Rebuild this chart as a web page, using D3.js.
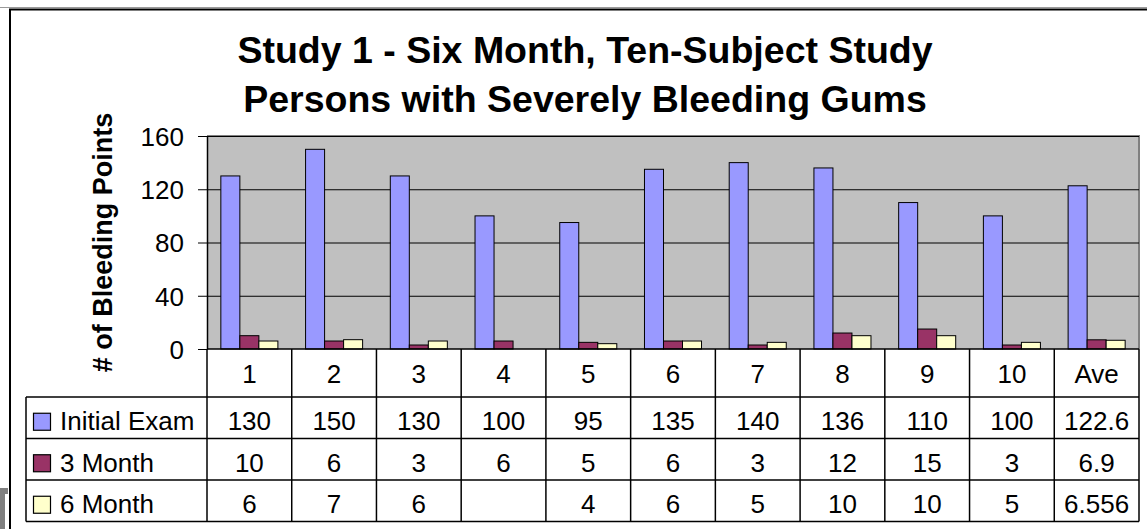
<!DOCTYPE html>
<html>
<head>
<meta charset="utf-8">
<script src="https://cdn.jsdelivr.net/npm/d3@7"></script>
<style>
  body { margin: 0; background: #fff; }
  text { font-family: Arial, "Liberation Sans", sans-serif; }
</style>
</head>
<body>
<div id="vizcont"></div>
<script>
// chart data
var categories = ["1", "2", "3", "4", "5", "6", "7", "8", "9", "10", "Ave"];
var seriesNames = ["Initial Exam", "3 Month", "6 Month"];
var initialExam = [130, 150, 130, 100, 95, 135, 140, 136, 110, 100, 122.6];
var threeMonth = [10, 6, 3, 6, 5, 6, 3, 12, 15, 3, 6.9];
var sixMonth = [6, 7, 6, null, 4, 6, 5, 10, 10, 5, 6.556];
var yTicks = [0, 40, 80, 120, 160];
var colors = ["#9999FF", "#993366", "#FFFFCC"];

var seriesValues = [initialExam, threeMonth, sixMonth];

var W = 1147, H = 529;
var plot = {left: 207, right: 1139, top: 136, bottom: 349};
var tableLeft = 26;
var rowTop = 397, rowH = 41.5;

var svg = d3.select("#vizcont").append("svg")
    .attr("width", W).attr("height", H);

svg.append("rect").attr("width", W).attr("height", H).attr("fill", "#fff");

// outer chart frame (runs off right / bottom)
svg.append("line").attr("x1", 0).attr("x2", W).attr("y1", 7.5).attr("y2", 7.5)
    .attr("stroke", "#9a9a9a").attr("stroke-width", 1);
svg.append("rect")
    .attr("x", 10).attr("y", 9.5).attr("width", W + 20).attr("height", H + 20)
    .attr("fill", "#fff").attr("stroke", "#000").attr("stroke-width", 2);

// stray window corner bottom-left
svg.append("rect").attr("x", 0).attr("y", 488).attr("width", 8).attr("height", 41).attr("fill", "#808080");
svg.append("rect").attr("x", 5).attr("y", 494).attr("width", 3).attr("height", 35).attr("fill", "#fff");

// title
var title = svg.append("text")
    .attr("text-anchor", "middle")
    .style("font-size", "37.5px").style("font-weight", "bold");
title.append("tspan").attr("x", 585).attr("y", 63).text("Study 1 - Six Month, Ten-Subject Study");
title.append("tspan").attr("x", 585).attr("y", 112).text("Persons with Severely Bleeding Gums");

// scales
var x = d3.scaleBand().domain(categories).range([plot.left, plot.right]).padding(0);
var xs = d3.scaleBand().domain(seriesNames).range([0, x.bandwidth()])
    .paddingInner(0).paddingOuter(0.728);
var y = d3.scaleLinear().domain([0, 160]).range([plot.bottom, plot.top]);

// plot background
svg.append("rect")
    .attr("x", plot.left).attr("y", plot.top)
    .attr("width", plot.right - plot.left).attr("height", plot.bottom - plot.top)
    .attr("fill", "#C0C0C0");
svg.append("path")
    .attr("d", "M" + plot.left + "," + plot.top + "H" + plot.right + "V" + plot.bottom)
    .attr("fill", "none").attr("stroke", "#808080").attr("stroke-width", 2);

// gridlines
svg.append("g")
    .attr("transform", "translate(" + plot.left + ",0)")
    .call(d3.axisLeft(y).tickValues(yTicks.slice(1)).tickSize(-(plot.right - plot.left)).tickFormat(""))
    .call(function(g) { g.select(".domain").remove(); })
    .selectAll("line").attr("stroke", "#000");

// bars
var groups = svg.append("g").selectAll("g")
    .data(categories)
    .enter().append("g")
    .attr("transform", function(d) { return "translate(" + x(d) + ",0)"; });

groups.selectAll("rect")
    .data(function(d, i) {
        return seriesNames.map(function(s, k) { return {s: s, k: k, v: seriesValues[k][i]}; })
            .filter(function(e) { return e.v != null; });
    })
    .enter().append("rect")
    .attr("x", function(d) { return xs(d.s); })
    .attr("y", function(d) { return y(d.v); })
    .attr("width", xs.bandwidth())
    .attr("height", function(d) { return y(0) - y(d.v); })
    .attr("fill", function(d) { return colors[d.k]; })
    .attr("stroke", "#000").attr("stroke-width", 1);

// y axis
var yAxis = svg.append("g")
    .attr("transform", "translate(" + plot.left + ",0)")
    .call(d3.axisLeft(y).tickValues(yTicks).tickSize(9).tickPadding(14).tickSizeOuter(0));
yAxis.select(".domain").attr("stroke", "#000").attr("stroke-width", 1.5);
yAxis.selectAll("line").attr("stroke", "#000");
yAxis.selectAll("text")
    .style("font-size", "26px").attr("fill", "#000")
    .attr("dy", "0.36em")
    .style("font-family", "Arial, 'Liberation Sans', sans-serif");

// y axis title
svg.append("text")
    .attr("transform", "translate(112," + ((plot.top + plot.bottom) / 2) + ") rotate(-90)")
    .attr("text-anchor", "middle")
    .style("font-size", "27px").style("font-weight", "bold")
    .text("# of Bleeding Points");

// data table
var tbl = svg.append("g");
var rowsY = d3.range(seriesNames.length + 1).map(function(i) { return rowTop + i * rowH; });

// horizontal lines
rowsY.forEach(function(yy) {
    tbl.append("line").attr("x1", tableLeft).attr("x2", plot.right)
        .attr("y1", yy).attr("y2", yy).attr("stroke", "#000").attr("stroke-width", 1.5);
});
tbl.append("line").attr("x1", plot.left).attr("x2", plot.right)
    .attr("y1", plot.bottom).attr("y2", plot.bottom).attr("stroke", "#000").attr("stroke-width", 1.5);
// vertical lines
tbl.append("line").attr("x1", tableLeft).attr("x2", tableLeft)
    .attr("y1", rowTop).attr("y2", rowsY[rowsY.length - 1]).attr("stroke", "#000").attr("stroke-width", 1.5);
categories.concat([null]).forEach(function(c, i) {
    var xx = c == null ? plot.right : x(c);
    tbl.append("line").attr("x1", xx).attr("x2", xx)
        .attr("y1", plot.bottom).attr("y2", rowsY[rowsY.length - 1])
        .attr("stroke", "#000").attr("stroke-width", 1.5);
});

// category header
tbl.selectAll(".cat").data(categories).enter().append("text")
    .attr("class", "cat")
    .attr("x", function(d) { return x(d) + x.bandwidth() / 2; })
    .attr("y", (plot.bottom + rowTop) / 2 + 10)
    .attr("text-anchor", "middle")
    .style("font-size", "26px")
    .text(function(d) { return d; });

// series rows
seriesNames.forEach(function(s, k) {
    var base = rowTop + k * rowH + rowH / 2 + 12.5;
    tbl.append("rect")
        .attr("x", 33.5).attr("y", base - 17).attr("width", 17).attr("height", 17)
        .attr("fill", colors[k]).attr("stroke", "#000").attr("stroke-width", 1.2);
    tbl.append("text").attr("x", 60).attr("y", base)
        .style("font-size", "26px").text(s);
    tbl.selectAll(".v" + k).data(seriesValues[k]).enter().append("text")
        .attr("x", function(d, i) { return x(categories[i]) + x.bandwidth() / 2; })
        .attr("y", base)
        .attr("text-anchor", "middle")
        .style("font-size", "26px")
        .text(function(d) { return d == null ? "" : d; });
});
</script>
</body>
</html>
